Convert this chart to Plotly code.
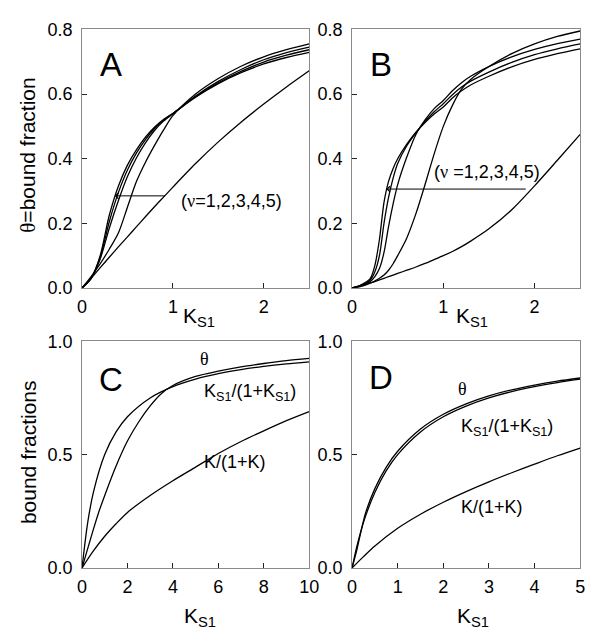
import plotly.graph_objects as go

# ---------------- data ----------------
# Panel A  (theta vs K_S1, nu = 1..5)
A_x = [0, 0.1, 0.2, 0.3, 0.4, 0.5, 0.6, 0.7, 0.8, 0.9, 1.0, 1.25, 1.5, 1.75, 2.0, 2.25, 2.5]
A_nu1 = [0, 0.03, 0.063, 0.095, 0.127, 0.158, 0.19, 0.221, 0.252, 0.282, 0.312, 0.385, 0.452, 0.513, 0.569, 0.622, 0.672]
A_nu2 = [0, 0.035, 0.075, 0.12, 0.17, 0.25, 0.33, 0.39, 0.442, 0.49, 0.533, 0.6, 0.648, 0.686, 0.715, 0.737, 0.755]
A_nu3 = [0, 0.03, 0.09, 0.185, 0.27, 0.345, 0.403, 0.45, 0.488, 0.517, 0.539, 0.594, 0.639, 0.676, 0.706, 0.728, 0.745]
A_nu4 = [0, 0.03, 0.095, 0.205, 0.295, 0.365, 0.418, 0.46, 0.494, 0.52, 0.54, 0.592, 0.635, 0.67, 0.699, 0.72, 0.737]
A_nu5 = [0, 0.03, 0.1, 0.225, 0.315, 0.38, 0.428, 0.467, 0.498, 0.522, 0.54, 0.59, 0.632, 0.666, 0.693, 0.713, 0.729]

# Panel B
B_x = [0, 0.1, 0.2, 0.25, 0.3, 0.35, 0.4, 0.45, 0.5, 0.6, 0.7, 0.8, 0.9, 1.0, 1.1, 1.2, 1.3, 1.5, 1.75, 2.0, 2.25, 2.5]
B_nu1 = [0, 0.008, 0.016, 0.02, 0.025, 0.03, 0.035, 0.04, 0.045, 0.055, 0.065, 0.076, 0.088, 0.1, 0.113, 0.128, 0.145, 0.183, 0.242, 0.316, 0.395, 0.475]
B_nu2 = [0, 0.005, 0.015, 0.022, 0.03, 0.04, 0.055, 0.075, 0.1, 0.155, 0.23, 0.32, 0.415, 0.5, 0.565, 0.615, 0.645, 0.685, 0.725, 0.755, 0.778, 0.795]
B_nu3 = [0, 0.007, 0.02, 0.035, 0.06, 0.11, 0.19, 0.26, 0.32, 0.405, 0.475, 0.52, 0.555, 0.58, 0.61, 0.635, 0.655, 0.685, 0.715, 0.738, 0.756, 0.77]
B_nu4 = [0, 0.008, 0.025, 0.05, 0.1, 0.2, 0.28, 0.34, 0.385, 0.44, 0.48, 0.515, 0.545, 0.57, 0.598, 0.622, 0.64, 0.668, 0.698, 0.722, 0.74, 0.755]
B_nu5 = [0, 0.01, 0.03, 0.07, 0.15, 0.265, 0.33, 0.37, 0.4, 0.445, 0.482, 0.512, 0.538, 0.56, 0.588, 0.61, 0.628, 0.655, 0.684, 0.707, 0.725, 0.74]

# Panel C
C_x_theta = [0, 0.25, 0.5, 0.75, 1, 1.5, 2, 2.5, 3, 3.5, 4, 5, 6, 7, 8, 9, 10]
C_theta = [0, 0.085, 0.17, 0.25, 0.32, 0.45, 0.56, 0.645, 0.715, 0.77, 0.805, 0.845, 0.868, 0.887, 0.902, 0.915, 0.925]
C_x_ks = [0, 0.25, 0.5, 1, 1.5, 2, 3, 4, 5, 6, 7, 8, 9, 10]
C_ks = [0, 0.2, 0.333, 0.5, 0.6, 0.667, 0.75, 0.8, 0.833, 0.857, 0.875, 0.889, 0.9, 0.909]
C_x_k = [0, 0.5, 1, 1.5, 2, 3, 4, 5, 6, 7, 8, 9, 10]
C_k = [0, 0.075, 0.14, 0.195, 0.245, 0.32, 0.385, 0.445, 0.505, 0.558, 0.605, 0.65, 0.69]

# Panel D
D_x = [0, 0.1, 0.2, 0.3, 0.5, 0.75, 1, 1.5, 2, 2.5, 3, 3.5, 4, 4.5, 5]
D_ks = [0, 0.091, 0.167, 0.231, 0.333, 0.429, 0.5, 0.6, 0.667, 0.714, 0.75, 0.778, 0.8, 0.818, 0.833]
D_theta = [0, 0.075, 0.165, 0.245, 0.35, 0.445, 0.515, 0.613, 0.678, 0.724, 0.759, 0.786, 0.807, 0.824, 0.838]
D_x_k = [0, 0.25, 0.5, 1, 1.5, 2, 2.5, 3, 3.5, 4, 4.5, 5]
D_k = [0, 0.05, 0.097, 0.175, 0.237, 0.29, 0.337, 0.38, 0.42, 0.458, 0.495, 0.529]

# tick labels
AB_xticks = [0, 1, 2]
AB_yticks = [0, 0.2, 0.4, 0.6, 0.8]
AB_yticklabels = ["0.0", "0.2", "0.4", "0.6", "0.8"]
C_xticks = [0, 2, 4, 6, 8, 10]
D_xticks = [0, 1, 2, 3, 4, 5]
CD_yticks = [0, 0.5, 1.0]
CD_yticklabels = ["0.0", "0.5", "1.0"]

# ---------------- figure ----------------
W, H = 597, 638
FONT = "Liberation Sans, Arial, sans-serif"
SERIF = "Liberation Serif, Times New Roman, serif"
FRAME = "#8a8a8a"


def px(x):
    return x / W


def py(y):
    return 1 - y / H


fig = go.Figure()

line = dict(color="black", width=1.3, shape="spline", smoothing=0.8)

for ys in [A_nu1, A_nu2, A_nu3, A_nu4, A_nu5]:
    fig.add_trace(go.Scatter(x=A_x, y=ys, mode="lines", line=line, xaxis="x", yaxis="y", showlegend=False, hoverinfo="skip"))
for ys in [B_nu1, B_nu2, B_nu3, B_nu4, B_nu5]:
    fig.add_trace(go.Scatter(x=B_x, y=ys, mode="lines", line=line, xaxis="x2", yaxis="y2", showlegend=False, hoverinfo="skip"))
for xs, ys in [(C_x_theta, C_theta), (C_x_ks, C_ks), (C_x_k, C_k)]:
    fig.add_trace(go.Scatter(x=xs, y=ys, mode="lines", line=line, xaxis="x3", yaxis="y3", showlegend=False, hoverinfo="skip"))
for xs, ys in [(D_x, D_theta), (D_x, D_ks), (D_x_k, D_k)]:
    fig.add_trace(go.Scatter(x=xs, y=ys, mode="lines", line=line, xaxis="x4", yaxis="y4", showlegend=False, hoverinfo="skip"))

left_dom = [px(79), px(312)]
right_dom = [px(356), px(590)]
top_dom = [py(287), py(20)]
bot_dom = [py(576), py(342)]

ax_common = dict(
    showline=True, mirror=True, linecolor=FRAME, linewidth=1,
    ticks="inside", ticklen=5, tickcolor="#222", tickwidth=1,
    showgrid=False, zeroline=False,
    tickfont=dict(family=FONT, size=18, color="black"),
)

layout_axes = dict(
    xaxis=dict(domain=left_dom, range=[0, 2.5], tickvals=AB_xticks, anchor="y", ticklabelstandoff=2, **ax_common),
    yaxis=dict(domain=top_dom, range=[0, 0.8], tickvals=AB_yticks, ticktext=AB_yticklabels, anchor="x", ticklabelstandoff=5, **ax_common),
    xaxis2=dict(domain=right_dom, range=[0, 2.5], tickvals=AB_xticks, anchor="y2", ticklabelstandoff=2, **ax_common),
    yaxis2=dict(domain=top_dom, range=[0, 0.8], tickvals=AB_yticks, ticktext=AB_yticklabels, anchor="x2", ticklabelstandoff=5, **ax_common),
    xaxis3=dict(domain=left_dom, range=[0, 10], tickvals=C_xticks, anchor="y3", ticklabelstandoff=2, **ax_common),
    yaxis3=dict(domain=bot_dom, range=[0, 1.0], tickvals=CD_yticks, ticktext=CD_yticklabels, anchor="x3", ticklabelstandoff=5, **ax_common),
    xaxis4=dict(domain=right_dom, range=[0, 5], tickvals=D_xticks, anchor="y4", ticklabelstandoff=2, **ax_common),
    yaxis4=dict(domain=bot_dom, range=[0, 1.0], tickvals=CD_yticks, ticktext=CD_yticklabels, anchor="x4", ticklabelstandoff=5, **ax_common),
)

ann = []
txt = dict(family=FONT, size=18, color="black")


def sub(s, size):
    return f'<sub style="font-size:{size}px">{s}</sub>'


def serif(s, size):
    return f'<span style="font-family:{SERIF};font-size:{size}px">{s}</span>'


# panel letters
for letter, xr, yr, xv, yv in [("A", "x", "y", 0.32, 0.69), ("B", "x2", "y2", 0.32, 0.69),
                               ("C", "x3", "y3", 1.29, 0.833), ("D", "x4", "y4", 0.64, 0.838)]:
    ann.append(dict(text=letter, x=xv, y=yv, xref=xr, yref=yr, showarrow=False,
                    xanchor="center", yanchor="middle", font=dict(family=FONT, size=33, color="black")))

# arrows
ann.append(dict(text="", x=0.36, y=0.285, ax=0.93, ay=0.285, xref="x", yref="y", axref="x", ayref="y",
                showarrow=True, arrowhead=4, arrowsize=1.1, arrowwidth=1, arrowcolor="black"))
ann.append(dict(text=f"({serif('ν', 18)}=1,2,3,4,5)", x=1.065, y=0.27, xref="x", yref="y", showarrow=False,
                xanchor="left", yanchor="middle", font=txt))
ann.append(dict(text="", x=0.375, y=0.306, ax=1.92, ay=0.306, xref="x2", yref="y2", axref="x2", ayref="y2",
                showarrow=True, arrowhead=4, arrowsize=1.1, arrowwidth=1, arrowcolor="black"))
ann.append(dict(text=f"({serif('ν', 18)} =1,2,3,4,5)", x=0.88, y=0.36, xref="x2", yref="y2", showarrow=False,
                xanchor="left", yanchor="middle", font=txt))

ks_ratio = f"K{sub('S1', 13)}/(1+K{sub('S1', 13)})"

# curve labels C
ann.append(dict(text=serif("θ", 18), x=5.4, y=0.923, xref="x3", yref="y3", showarrow=False, xanchor="center", yanchor="middle", font=txt))
ann.append(dict(text=ks_ratio, x=5.28, y=0.775, xref="x3", yref="y3", showarrow=False,
                xanchor="left", yanchor="middle", font=txt))
ann.append(dict(text="K/(1+K)", x=5.28, y=0.467, xref="x3", yref="y3", showarrow=False,
                xanchor="left", yanchor="middle", font=txt))
# curve labels D
ann.append(dict(text=serif("θ", 18), x=2.43, y=0.788, xref="x4", yref="y4", showarrow=False, xanchor="center", yanchor="middle", font=txt))
ann.append(dict(text=ks_ratio, x=2.34, y=0.62, xref="x4", yref="y4", showarrow=False,
                xanchor="left", yanchor="middle", font=txt))
ann.append(dict(text="K/(1+K)", x=2.34, y=0.268, xref="x4", yref="y4", showarrow=False,
                xanchor="left", yanchor="middle", font=txt))

# axis titles
tfont = dict(family=FONT, size=21, color="black")
for cx, cy in [(199, 317), (479, 317), (200, 627), (480, 627)]:
    ann.append(dict(text=f"K{sub('S1', 15)}", x=px(cx), y=py(cy), xref="paper", yref="paper", showarrow=False,
                    xanchor="center", yanchor="middle", font=tfont))
ann.append(dict(text=f"{serif('θ', 21)}=bound fraction", x=px(24), y=py(150), xref="paper", yref="paper", showarrow=False,
                textangle=-90, xanchor="center", yanchor="middle", font=tfont))
ann.append(dict(text="bound fractions", x=px(24), y=py(456), xref="paper", yref="paper", showarrow=False,
                textangle=-90, xanchor="center", yanchor="middle", font=tfont))

fig.update_layout(
    width=W, height=H,
    margin=dict(l=0, r=0, t=0, b=0),
    paper_bgcolor="white", plot_bgcolor="white",
    font=dict(family=FONT, color="black"),
    annotations=ann,
    **layout_axes,
)

fig.write_html("out.html")
